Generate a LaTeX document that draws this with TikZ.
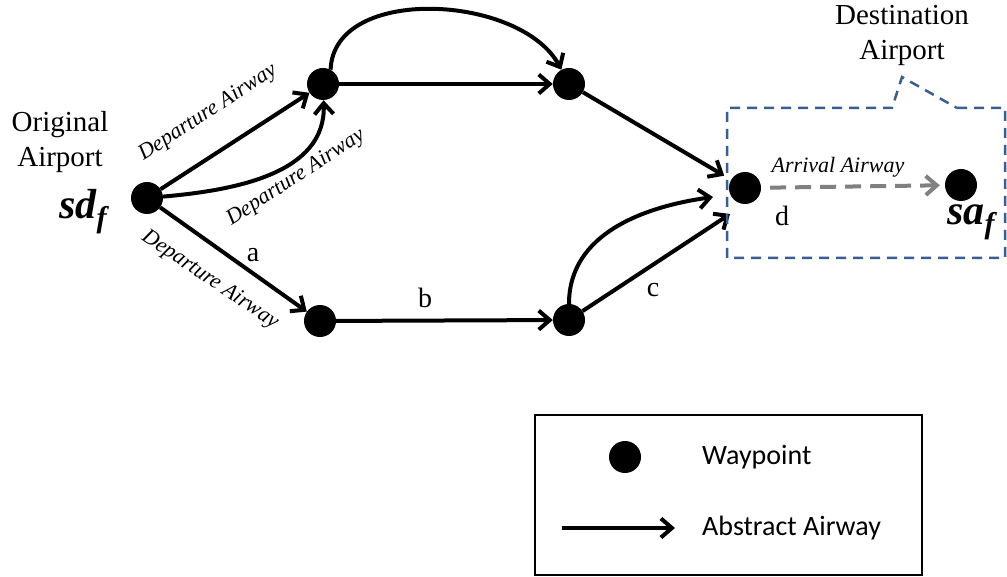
\documentclass[tikz,border=0pt]{standalone}
\usepackage{fontspec}
\setmainfont{Liberation Serif}
\newfontfamily\tnr{Liberation Serif}
\newfontfamily\legendfont{Carlito}
\usetikzlibrary{arrows.meta}
\definecolor{boxblue}{RGB}{59,94,145}
\definecolor{arrgray}{RGB}{128,128,128}
\begin{document}
\begin{tikzpicture}[x=1pt,y=1pt,
  wp/.style={circle,fill=black,minimum size=32pt,inner sep=0pt},
  air/.style={line width=4pt,-{Straight Barb[length=11pt,width=19pt]}},
  lbl/.style={font=\tnr\itshape\fontsize{22}{24}\selectfont,inner sep=1pt},
  ltr/.style={font=\tnr\fontsize{28}{30}\selectfont,inner sep=1pt},
  big/.style={font=\tnr\fontsize{29}{35}\selectfont,align=center,inner sep=0pt},
  sym/.style={font=\tnr\bfseries\itshape\fontsize{42}{42}\selectfont,inner sep=0pt},
  legtxt/.style={font=\legendfont\fontsize{28}{32}\selectfont,anchor=west,inner sep=0pt},
  ]
\useasboundingbox (0,0) rectangle (1007,-577);

% waypoints
\node[wp] (sd) at (147,-198) {};
\node[wp] (n1) at (323,-84) {};
\node[wp] (n2) at (569,-84) {};
\node[wp] (n3) at (320,-321) {};
\node[wp] (n4) at (569,-320) {};
\node[wp] (n5) at (745,-188) {};
\node[wp] (sa) at (961,-185) {};
\coordinate (in1) at (713,-197);
\coordinate (in2) at (730,-214);

% airways
\draw[air] (sd) -- (n1);
\draw[air] (sd) to[out=5,in=-88] (n1);
\draw[air] (sd) -- (n3);
\draw[air] (n1) -- (n2);
\draw[air] (n1.62) to[out=88,in=118,looseness=0.95] (n2);
\draw[air] (n3) -- (n4);
\draw[air, shorten >=8pt] (n2) -- (n5);
\draw[air] (n4) -- (in2);
\draw[air] (n4.north) to[out=90,in=188] (in1);
\draw[line width=4pt, arrgray, dash pattern=on 16pt off 9pt, shorten <=9pt, shorten >=5pt,
      -{Straight Barb[length=11pt,width=19pt]}] (n5) -- (sa);

% destination callout
\draw[boxblue, line width=2.5pt, dash pattern=on 10pt off 7pt]
  (957,-108) -- (1005,-108) -- (1005,-258) -- (727,-258) -- (727,-108) -- (892,-108) -- (902,-77) -- cycle;

% labels
\node[lbl, rotate=33] at (208,-113) {Departure Airway};
\node[lbl, rotate=33] at (296,-178) {Departure Airway};
\node[lbl, rotate=-34] at (210,-280) {Departure Airway};
\node[lbl] at (838,-167) {Arrival Airway};
\node[ltr] at (253,-255) {a};
\node[ltr] at (425,-298) {b};
\node[ltr] at (653,-290) {c};
\node[ltr] at (782,-216) {d};
\node[big] at (60,-142) {Original\\Airport};
\node[big] at (902,-35) {Destination\\Airport};
\node[sym] at (83,-212) {sd\raisebox{-9pt}{\fontsize{30}{30}\selectfont f}};
\node[sym] at (971,-222) {sa\raisebox{-9pt}{\fontsize{30}{30}\selectfont f}};

% legend
\node[draw, line width=2pt, minimum width=387pt, minimum height=160pt, inner sep=0pt] (leg) at (728.5,-495) {};
\node[wp] (lwp) at (625,-457) {};
\coordinate (la1) at (562,-528);
\coordinate (la2) at (675,-528);
\draw[air] (la1) -- (la2);
\node[legtxt] (lt1) at (702,-457) {Waypoint};
\node[legtxt] (lt2) at (702,-528) {Abstract Airway};
\end{tikzpicture}
\end{document}
